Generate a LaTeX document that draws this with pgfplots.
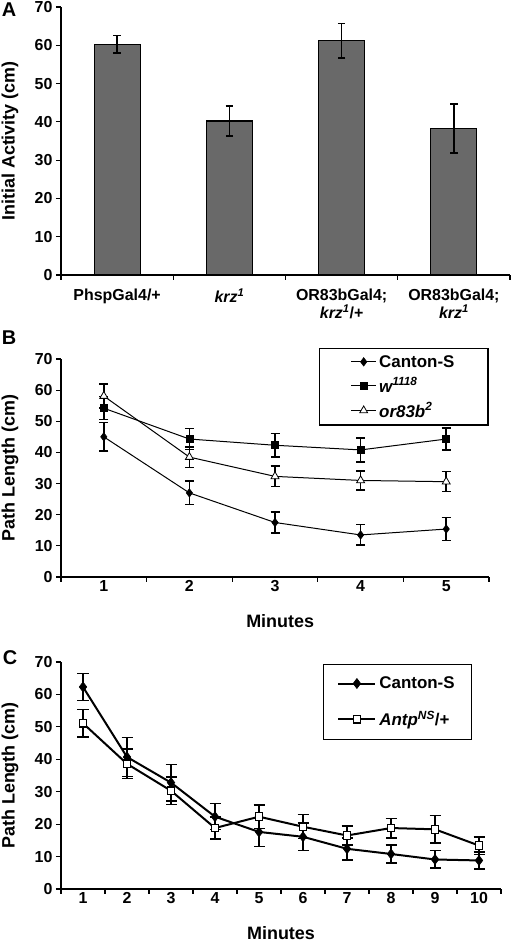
\documentclass[border=0pt]{standalone}
\usepackage{pgfplots}
\pgfplotsset{compat=1.18}
\usepackage{fontspec}
\setmainfont{Liberation Sans}
\definecolor{barfill}{RGB}{105,105,105}
\pgfplotstableread{
x y e
1 60.3 2.3
2 40.2 3.9
3 61.2 4.5
4 38.2 6.4
}\dataA
\pgfplotstableread{
x y e
1 45.0 4.6
2 27.0 3.8
3 17.5 3.4
4 13.5 3.3
5 15.4 3.7
}\dataBcs
\pgfplotstableread{
x y e
1 54.2 3.7
2 44.3 3.4
3 42.3 3.7
4 40.8 3.9
5 44.3 3.6
}\dataBw
\pgfplotstableread{
x y e
1 58.1 3.8
2 38.5 3.3
3 32.3 3.3
4 31.0 3.1
5 30.6 3.2
}\dataBor
\pgfplotstableread{
x y e
1 62.3 4.2
2 40.7 6.0
3 32.8 5.6
4 22.3 4.0
5 17.6 4.5
6 16.1 4.2
7 12.4 3.4
8 10.8 2.8
9 9.1 2.7
10 8.8 2.6
}\dataCcs
\pgfplotstableread{
x y e
1 51.1 4.2
2 38.6 4.5
3 30.3 4.3
4 18.8 3.4
5 22.3 3.6
6 19.2 3.7
7 16.5 3.0
8 18.8 3.0
9 18.4 4.2
10 13.4 2.7
}\dataCan
\pgfplotsset{
  panel/.style={
    scale only axis,
    anchor=south west,
    axis x line*=bottom, axis y line*=left,
    axis line style={line width=1.2bp, black},
    ymin=0, ymax=70, ytick={0,10,...,70},
    tick style={black, line width=1.2bp},
    tick align=outside,
    major tick length=5bp,
    xticklabels={},
    ticklabel style={font=\fontsize{16}{18.5}\selectfont\bfseries, align=center},
    /pgf/number format/assume math mode=true,
    label style={font=\fontsize{18}{20}\selectfont\bfseries},
    clip=false,
  },
  errs/.style={error bars/.cd, y dir=both, y explicit,
    error bar style={line width=1.5bp, black},
    error mark options={rotate=90, mark size=#1, line width=1.5bp, black}},
}
\newcommand{\sx}[1]{\textsuperscript{#1}}
\begin{document}
\begin{tikzpicture}[x=1bp,y=1bp]
\useasboundingbox (0,0) rectangle (512bp,942bp);
% Panel A
\begin{axis}[panel, at={(61bp,667bp)}, width=449bp, height=268bp,
  xmin=0.5, xmax=4.5, xtick={0.5,1.5,...,4.5},
  extra x ticks={1,2,3,4},
  extra x tick style={major tick length=0pt, tick label style={yshift=-10bp}},
  extra x tick labels={PhspGal4/+, \textit{krz\sx{1}}, OR83bGal4;\\\textit{krz\sx{1}}/+, OR83bGal4;\\\textit{krz\sx{1}}},
  ylabel={Initial Activity (cm)},
  ylabel style={at={(axis description cs:-0.1136,0.5)}, anchor=center},
  ybar, bar width=46bp]
\addplot[draw=black, line width=1.2bp, fill=barfill, errs=3.7bp] table[x=x, y=y, y error=e]{\dataA};
\end{axis}
\node[font=\fontsize{20}{22}\selectfont\bfseries, anchor=center] at (9bp,932bp) {A};
% Panel B
\begin{axis}[panel, at={(61bp,365bp)}, width=428bp, height=218bp,
  xmin=0.5, xmax=5.5, xtick={0.5,1.5,...,5.5},
  extra x ticks={1,2,3,4,5},
  extra x tick style={major tick length=0pt},
  extra x tick labels={1,2,3,4,5},
  xlabel={Minutes},
  xlabel style={at={(axis description cs:0.512,-0.202)}, anchor=center},
  ylabel={Path Length (cm)},
  ylabel style={at={(axis description cs:-0.1192,0.5)}, anchor=center},
  legend style={at={(0.603,1.05)}, anchor=north west, draw=black, line width=1.2bp,
    font=\fontsize{17}{19}\selectfont\bfseries, inner xsep=31bp, inner ysep=4bp,
    row sep=4bp, nodes={inner sep=2.5bp}},
  legend cell align=left,
  legend image code/.code={\draw[mark repeat=2,mark phase=2,#1] plot coordinates {(0bp,0bp) (12.5bp,0bp) (25bp,0bp)};}]
\addplot[black, line width=1bp, mark=diamond*, mark size=4.2bp, mark options={solid, fill=black, line width=0.6bp}, errs=4.5bp] table[x=x, y=y, y error=e]{\dataBcs};
\addlegendentry{Canton-S}
\addplot[black, line width=1bp, mark=square*, mark size=3.5bp, mark options={solid, fill=black, line width=0.6bp}, errs=4.5bp] table[x=x, y=y, y error=e]{\dataBw};
\addlegendentry{\textit{w\sx{1118}}}
\addplot[black, line width=1bp, mark=triangle*, mark size=4.6bp, mark options={solid, fill=white, line width=0.8bp}, errs=4.5bp] table[x=x, y=y, y error=e]{\dataBor};
\addlegendentry{\textit{or83b\sx{2}}}
\end{axis}
\node[font=\fontsize{20}{22}\selectfont\bfseries, anchor=center] at (9bp,604bp) {B};
% Panel C
\begin{axis}[panel, at={(61bp,53bp)}, width=440bp, height=227bp,
  xmin=0.5, xmax=10.5, xtick={0.5,1.5,...,10.5},
  extra x ticks={1,2,...,10},
  extra x tick style={major tick length=0pt},
  extra x tick labels={1,2,3,4,5,6,7,8,9,10},
  xlabel={Minutes},
  xlabel style={at={(axis description cs:0.5,-0.194)}, anchor=center},
  ylabel={Path Length (cm)},
  ylabel style={at={(axis description cs:-0.1159,0.5)}, anchor=center},
  legend style={at={(0.595,0.99)}, anchor=north west, draw=black, line width=1.2bp,
    font=\fontsize{17}{19}\selectfont\bfseries, inner xsep=14bp, inner ysep=9bp,
    row sep=15bp, nodes={inner sep=3bp}},
  legend cell align=left,
  legend image code/.code={\draw[mark repeat=2,mark phase=2,#1] plot coordinates {(0bp,0bp) (18.5bp,0bp) (37bp,0bp)};}]
\addplot[black, line width=2bp, mark=diamond*, mark size=5bp, mark options={solid, fill=black, line width=0.6bp}, errs=5.5bp] table[x=x, y=y, y error=e]{\dataCcs};
\addlegendentry{Canton-S}
\addplot[black, line width=2bp, mark=square*, mark size=3.8bp, mark options={solid, fill=white, line width=1.2bp}, errs=5.5bp] table[x=x, y=y, y error=e]{\dataCan};
\addlegendentry{\textit{Antp\sx{NS}}/+}
\end{axis}
\node[font=\fontsize{20}{22}\selectfont\bfseries, anchor=center] at (10bp,284bp) {C};
\end{tikzpicture}
\end{document}
